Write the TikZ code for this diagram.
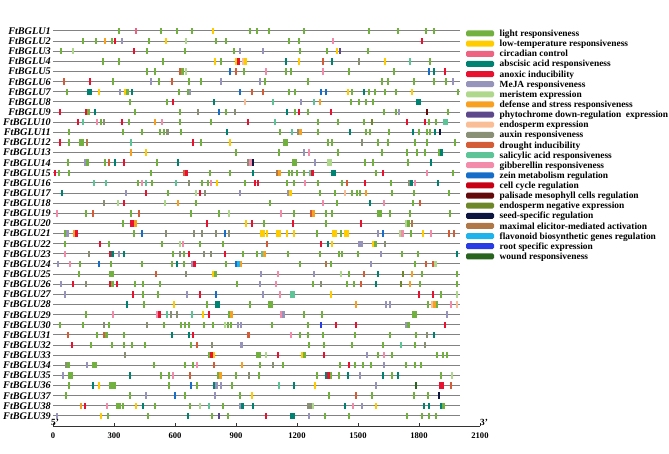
\documentclass[tikz,border=0pt]{standalone}
\usepackage{fontspec}
\setmainfont{Liberation Serif}

% element colours
\definecolor{cL}{RGB}{114,176,64}
\definecolor{cT}{RGB}{255,204,0}
\definecolor{cC}{RGB}{238,98,130}
\definecolor{cA}{RGB}{0,130,115}
\definecolor{cX}{RGB}{232,18,48}
\definecolor{cM}{RGB}{150,148,186}
\definecolor{cME}{RGB}{176,216,140}
\definecolor{cD}{RGB}{248,160,32}
\definecolor{cP}{RGB}{94,72,140}
\definecolor{cE}{RGB}{250,190,150}
\definecolor{cAU}{RGB}{138,144,118}
\definecolor{cDR}{RGB}{212,92,54}
\definecolor{cS}{RGB}{92,196,150}
\definecolor{cG}{RGB}{242,140,170}
\definecolor{cZ}{RGB}{22,110,200}
\definecolor{cCC}{RGB}{200,0,20}
\definecolor{cPA}{RGB}{100,10,10}
\definecolor{cEN}{RGB}{110,135,40}
\definecolor{cSS}{RGB}{12,22,64}
\definecolor{cMX}{RGB}{176,120,70}
\definecolor{cF}{RGB}{30,180,235}
\definecolor{cR}{RGB}{40,60,230}
\definecolor{cW}{RGB}{40,100,30}
\definecolor{linegray}{RGB}{130,130,130}

\tikzset{
  geneline/.style={draw=linegray, line width=1pt},
  axisline/.style={draw=black!80, line width=0.6pt},
  genelabel/.style={inner sep=0pt, font=\fontsize{10.2}{10.2}\selectfont\bfseries\itshape},
  keylabel/.style={inner sep=0pt, font=\fontsize{9.4}{9.4}\selectfont\bfseries},
  ticklabel/.style={inner sep=0pt, font=\fontsize{8.6}{8.6}\selectfont\bfseries},
}

% one row of cis-elements: #1 row number, #2 list of x/colour
\newcommand{\generow}[2]{%
  \foreach \px/\cc in {#2} {%
    \fill[\cc] ({\px-1.3},{31+(#1-1)*10.13-3.2}) rectangle ({\px+1.3},{31+(#1-1)*10.13+3.2});
  }%
}

\begin{document}
\begin{tikzpicture}[x=1pt, y=-1pt]
     \useasboundingbox (0,0) rectangle (669,454);

     % gene lines and names
     \foreach \i in {1,...,39} {
        \pgfmathsetmacro\yy{31+(\i-1)*10.13}
        \draw[geneline] (53.3,\yy) -- (459.5,\yy);
        \node[genelabel, anchor=base east] (g\i) at (51,\yy+3.4) {FtBGLU\i};
     }

     % elements
     \generow{1}{119/cL,136/cC,161/cL,177/cL,192/cL,213/cT,250/cL,257/cL,269/cL,304/cL,369/cL,398/cL,426/cL,434/cL}
     \generow{2}{83/cL,96/cL,105/cD,112/cL,115/cX,122/cM,149/cL,166/cT,186/cME,216/cL,226/cL,289/cL,299/cL,333/cG,422/cX}
     \generow{3}{61/cL,73/cME,134/cX,147/cL,185/cL,234/cL,240/cM,263/cM,300/cL,327/cL,337/cT,340/cP,368/cL}
     \generow{4}{103/cL,119/cL,163/cL,215/cT,221/cL,236/cT,238.5/cX,243/cE,245.5/cT,286/cA,299/cT,323/cDR,332/cA,359/cAU,385/cT,410/cS,430/cL}
     \generow{5}{147/cL,155/cL,180/cDR,182.5/cL,186/cME,230/cZ,236/cDR,244/cL,266/cG,286/cL,291/cL,323/cG,349/cL,394/cL,429/cZ,434/cA,445/cX}
     \generow{6}{64/cDR,90/cX,113/cL,151/cM,159/cL,172/cDR,189/cL,201/cL,221/cM,260/cM,265/cL,308/cL,382/cL,388/cL,414/cL,434/cL,446/cL,453/cM}
     \generow{7}{67/cL,88/cA,90.5/cA,99/cT,120/cM,125/cT,127.5/cL,132/cA,179/cL,188/cL,190/cM,240/cZ,252/cDR,263/cDR,289/cL,295/cL,321/cZ,326/cZ,348/cT,352/cL,364/cA,369/cL,375/cL,385/cL,396/cL,412/cT,458/cL}
     \generow{8}{130/cL,167/cL,173/cX,214/cA,245/cE,273/cS,301/cM,314/cS,320/cD,351/cL,359/cL,366/cL,373/cL,417/cA,419.5/cA}
     \generow{9}{60/cX,86/cX,88.5/cL,95/cA,135/cL,180/cL,198/cAU,219/cZ,226/cL,235/cAU,287/cA,295/cL,299/cX,308/cL,331/cX,384/cL,396/cL,399/cM,427/cPA,448/cL}
     \generow{10}{78/cX,83/cS,97/cG,101/cL,104/cAU,122/cX,129/cL,155/cD,162/cG,180/cL,211/cL,248/cX,275/cS,318/cL,338/cL,364/cL,372/cEN,407/cX,425/cX,429/cL,436/cL,444/cS,446.5/cS}
     \generow{11}{69/cL,123/cL,142/cL,160/cL,164/cL,167.5/cAU,181/cL,227/cA,280/cL,292/cS,298/cAU,300.5/cD,318/cL,350/cA,366/cL,370/cL,389/cL,413/cA,419/cL,427/cL,430/cL,435/cA,440/cSS}
     \generow{12}{60/cX,69/cL,80/cL,82.5/cL,87/cMX,131/cS,193/cX,201/cL,230/cT,284/cL,286.5/cL,328/cL,332/cL,362/cAU,378/cL,388/cL,415/cL,427/cL,455/cL}
     \generow{13}{131/cD,146/cT,236/cL,279/cL,304/cM,309/cG,338/cL,382/cL,407/cL,417/cL,425/cL,439/cL,441.5/cA}
     \generow{14}{68/cL,85/cM,87.5/cL,105/cL,109/cDR,115/cA,124/cX,157/cL,178/cA,248/cAU,250.5/cG,253/cSS,293/cL,295.5/cL,315/cM,328/cME,330.5/cME,365/cL,373/cL,408/cL,431/cA}
     \generow{15}{55/cX,59/cL,69/cL,151/cL,184/cDR,186.5/cX,210/cL,230/cL,253/cA,277/cMX,279.5/cD,289/cL,292/cL,297/cL,304/cL,310/cS,312.5/cX,332/cA,334.5/cA,376/cL,383/cX,427/cG,453/cL}
     \generow{16}{94/cS,106/cS,138/cL,142/cG,146/cS,152/cL,176/cS,189/cAU,202/cL,208/cL,211/cG,217/cT,245/cL,255/cX,258/cX,287/cL,294/cL,305/cG,318/cL,342/cL,347/cDR,365/cX,391/cL,409/cAU,411.5/cA,415/cG,438/cA}
     \generow{17}{62/cA,126/cM,146/cX,168/cL,196/cME,200/cX,205/cAU,240/cM,288/cM,290.5/cT,320/cL,335/cL,345/cE,352/cL,357/cL,360/cL,366/cD,392/cL,414/cL,449/cL}
     \generow{18}{104/cAU,118/cME,124/cX,165/cME,178/cD,196/cL,270/cL,323/cG,337/cL,370/cA,384/cG,413/cL,420/cDR}
     \generow{19}{57/cG,86/cL,93/cDR,131/cL,139/cDR,191/cL,219/cL,229/cME,281/cG,294/cL,311/cDR,313.5/cD,326/cL,332/cL,378/cL,380.5/cL,390/cL,410/cL,450/cL}
     \generow{20}{123/cL,131/cX,133.5/cX,135.5/cD,207/cX,246/cT,252/cX,264/cL,293/cX,326/cL,361/cX,406/cME,408.5/cL,412/cMX}
     \generow{21}{65/cL,67.5/cM,74/cD,76.5/cX,134/cL,142/cZ,166/cAU,194/cAU,202/cAU,216/cAU,225/cZ,229/cAU,261/cT,263.5/cT,267/cT,277/cT,279.5/cT,287/cT,294/cT,317/cL,333/cT,335.5/cT,341/cL,345/cT,347.5/cT,378/cM,383/cZ,400/cME,402.5/cG,411/cL,423/cT,431/cG,449/cDR,454/cDR}
     \generow{22}{65/cL,100/cX,109/cL,162/cL,180/cME,183/cG,200/cL,223/cL,267/cDR,321/cX,328/cA,332/cT,359/cM,361.5/cM,373/cT,375.5/cL,385/cAU}
     \generow{23}{65/cG,89/cAU,110/cX,112.5/cA,119/cM,124/cA,173/cL,180/cAU,184/cL,189/cX,204/cAU,211/cAU,225/cX,243/cL,257/cL,262/cS,264.5/cD,288/cL,320/cL,339/cL,342/cL,358/cL,381/cM,402/cL,418/cL,457/cA}
     \generow{24}{58/cM,70/cG,80/cL,99/cZ,111/cL,142/cL,172/cL,177/cA,184/cL,192/cM,194.5/cX,226/cL,236/cZ,238.5/cF,241/cD,300/cL,326/cMX,331/cL,371/cM,415/cL,426/cDR,433/cDR,435.5/cME}
     \generow{25}{79/cL,110/cL,112.5/cL,156/cDR,186/cAU,213/cT,215.5/cL,261/cM,278/cG,314/cM,341/cME,349/cL,364/cDR,378/cA,403/cEN,412/cD,422/cL,457/cL}
     \generow{26}{61/cM,73/cX,86/cAU,110/cX,112.5/cL,117/cX,135/cL,143/cL,160/cL,237/cL,260/cM,276/cG,313/cL,321/cAU,347/cL,354/cL,361/cDR,376/cA,401/cEN,410/cD,420/cL,457/cL}
     \generow{27}{65/cM,133/cX,143/cL,158/cL,187/cM,200/cX,216/cZ,263/cM,280/cG,291/cS,293.5/cS,331/cT,419/cX,433/cX,441/cL,457/cME}
     \generow{28}{127/cA,144/cL,174/cT,207/cL,216/cA,218.5/cA,250/cL,269/cL,271.5/cL,356/cD,386/cM,390/cM,428/cL,432/cE,434.5/cD,437/cL,451/cG,457/cE}
     \generow{29}{86/cL,113/cG,157/cG,159.5/cX,167/cS,171/cAU,177/cAU,192/cS,203/cT,209/cX,229/cL,231.5/cD,281/cG,283.5/cM,304/cL,322/cL,413/cL,415.5/cL,447/cM}
     \generow{30}{60/cL,83/cL,104/cAU,109/cL,147/cAU,164/cL,181/cL,185/cL,189/cL,204/cL,213/cL,225/cME,228/cL,231/cL,238/cM,241/cM,272/cL,308/cL,321/cR,336/cX,356/cX,406/cM,408.5/cL,445/cX}
     \generow{31}{68/cDR,97/cL,104/cDR,106.5/cL,124/cL,172/cA,189/cA,193/cX,248.5/cDR,291/cG,300/cL,308/cL,323/cL,355/cL,390/cL,416/cL,427/cAU,434/cA}
     \generow{32}{72/cX,91/cL,112/cL,124/cL,132/cL,145/cL,191/cL,197/cDR,212/cAU,241.5/cM,309/cL,324/cL,352/cL,383/cL,401/cS,415/cL,425/cAU}
     \generow{33}{125/cAU,209/cL,211.5/cX,214/cT,257/cL,259.5/cL,266/cME,278/cX,302/cT,304.5/cL,324/cX,367/cM,378/cL,384/cG,392/cL,437/cL,443/cL,447/cL}
     \generow{34}{66/cAU,68.5/cL,87/cM,93/cL,95.5/cL,154/cL,185/cL,193/cL,197/cG,214/cDR,242/cD,260/cL,273/cAU,283/cL,340/cL,349/cX,355/cL,363/cL,371/cL,384/cM,406/cL,415/cL,421/cL}
     \generow{35}{63/cM,69/cL,71.5/cL,130/cA,161/cL,169/cL,173/cG,190/cDR,218/cL,220.5/cD,236/cL,249/cAU,259/cL,317/cL,326/cA,328.5/cX,331/cL,339/cL,348/cA,360/cM,383/cA,392/cL,398/cA,441/cL,452/cME}
     \generow{36}{69/cL,93/cA,99/cT,110/cL,112.5/cL,115/cL,169/cL,191/cZ,197/cL,214/cA,216.5/cM,221/cM,232/cL,279/cS,294/cA,315/cT,376/cM,416/cW,440/cX,442.5/cX,451/cDR}
     \generow{37}{66/cL,130/cL,146/cM,175/cZ,185/cL,215/cM,240/cL,252/cT,329/cL,356/cDR,372/cL,414/cL,428/cL,439/cSS}
     \generow{38}{81/cD,85/cX,107/cG,117/cL,119.5/cL,123/cL,136/cT,143/cA,155/cL,190/cL,200/cME,209/cS,223/cL,240/cM,242.5/cA,253/cA,308/cAU,310.5/cAU,313/cME,345/cA,353/cG,362/cM,376/cT,424/cA,429/cA,441/cA,443.5/cL}
     \generow{39}{57/cM,101/cT,108/cL,148/cL,188/cA,212/cL,219/cP,228/cL,266/cX,291/cA,293.5/cA,309/cM,325/cL,349/cL,407/cL,422/cL,429/cL,436/cL}

     % axis
     \draw[axisline] (53,426) -- (480,426);
     \foreach \v [count=\n] in {0,300,...,2100} {
        \draw[axisline] ({53+\v*0.20333},426) -- ({53+\v*0.20333},423);
        \node[ticklabel] (t\n) at ({53+\v*0.20333},435.5) {\v};
     }
     \node[keylabel, anchor=base] (end5) at (55,425) {5'};
     \node[keylabel, anchor=base] (end3) at (484,425) {3'};

     % legend
     \foreach \col/\txt [count=\k] in {cL/light responsiveness, cT/low-temperature responsiveness,
        cC/circadian control, cA/abscisic acid responsiveness, cX/anoxic inducibility,
        cM/MeJA responsiveness, cME/meristem expression, cD/defense and stress responsiveness,
        cP/phytochrome down-regulation\ \ expression, cE/endosperm expression,
        cAU/auxin responsiveness, cDR/drought inducibility, cS/salicylic acid responsiveness,
        cG/gibberellin responsiveness, cZ/zein metabolism regulation, cCC/cell cycle regulation,
        cPA/palisade mesophyll cells regulation, cEN/endosperm negative expression,
        cSS/seed-specific regulation, cMX/maximal elicitor-mediated activation,
        cF/flavonoid biosynthetic genes regulation, cR/root specific expression,
        cW/wound responsiveness} {
        \pgfmathsetmacro\yy{33.5+(\k-1)*10.13}
        \fill[\col, rounded corners=1.5pt] (466,\yy-3) rectangle (494,\yy+3);
        \node[keylabel, anchor=base west] (k\k) at (499.5,\yy+3.1) {\txt};
     }

\end{tikzpicture}
\end{document}
